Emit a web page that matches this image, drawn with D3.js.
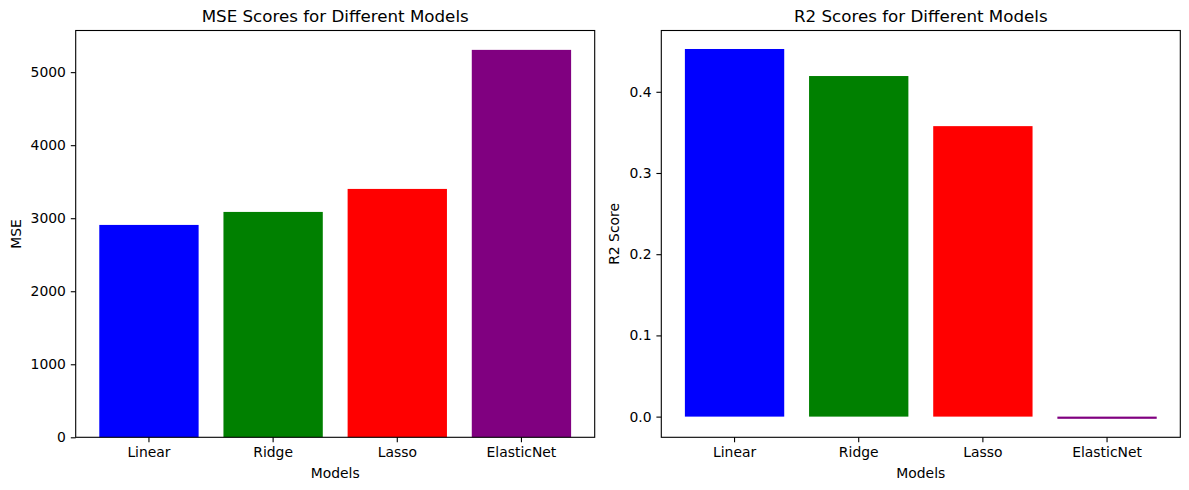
<!DOCTYPE html>
<html>
<head>
<meta charset="utf-8">
<script src="https://cdn.jsdelivr.net/npm/d3@7"></script>
<style>
  body { margin: 0; background: #fff; }
  svg { display: block; }
  svg text { font-family: "DejaVu Sans", sans-serif; }
</style>
</head>
<body>
<svg id="chart" width="1189" height="490"></svg>
<script>
// values
const models = ["Linear", "Ridge", "Lasso", "ElasticNet"];
const mseValues = [2908, 3086, 3401, 5305];
const r2Values = [0.4527, 0.4194, 0.3577, -0.0027];
const barColors = ["blue", "green", "red", "purple"];
const mseTicks = [0, 1000, 2000, 3000, 4000, 5000];
const r2Ticks = [0.0, 0.1, 0.2, 0.3, 0.4];

const svg = d3.select("#chart");
const axTop = 30.5, axBottom = 437.3;

// draws one bar panel, same look as matplotlib defaults
function panel(opts) {
    const g = svg.append("g");
    const x = d3.scaleBand()
        .domain(models)
        .range([opts.left, opts.right])
        .paddingInner(0.2)
        .paddingOuter(0.19);

    const lo = d3.min(opts.values), hi = d3.max(opts.values);
    const span = Math.max(hi, 0) - Math.min(lo, 0);
    const yMin = lo < 0 ? lo - 0.05 * span : 0;
    const yMax = hi + 0.05 * span;
    const y = d3.scaleLinear().domain([yMin, yMax]).range([axBottom, axTop]);

    g.selectAll("rect.bar")
        .data(opts.values)
        .join("rect")
        .attr("class", "bar")
        .attr("x", (d, i) => x(models[i]))
        .attr("width", x.bandwidth())
        .attr("y", d => y(Math.max(d, 0)))
        .attr("height", d => Math.abs(y(d) - y(0)))
        .attr("fill", (d, i) => barColors[i]);

    const yAxis = d3.axisLeft(y)
        .tickValues(opts.ticks)
        .tickFormat(opts.format)
        .tickSize(4.9)
        .tickPadding(4.9)
        .tickSizeOuter(0);
    const ya = g.append("g").attr("transform", `translate(${opts.left},0)`).call(yAxis);

    const xAxis = d3.axisBottom(x)
        .tickSize(4.9)
        .tickPadding(4.9)
        .tickSizeOuter(0);
    const xa = g.append("g").attr("transform", `translate(0,${axBottom})`).call(xAxis);

    [ya, xa].forEach(a => {
        a.attr("font-family", null).attr("font-size", null);
        a.select(".domain").remove();
        a.selectAll("line").attr("stroke", "#000").attr("stroke-width", 1.1);
        a.selectAll("text").attr("fill", "#000").style("font-size", "13.9px");
    });

    // spines
    g.append("rect")
        .attr("x", opts.left).attr("y", axTop)
        .attr("width", opts.right - opts.left).attr("height", axBottom - axTop)
        .attr("fill", "none").attr("stroke", "#000").attr("stroke-width", 1.1);

    const cx = (opts.left + opts.right) / 2;
    g.append("text")
        .attr("x", cx).attr("y", 22)
        .attr("text-anchor", "middle")
        .style("font-size", "16.7px")
        .text(opts.title);

    g.append("text")
        .attr("x", cx).attr("y", 478)
        .attr("text-anchor", "middle")
        .style("font-size", "13.9px")
        .text("Models");

    g.append("text")
        .attr("transform", `translate(${opts.labelX},${(axTop + axBottom) / 2}) rotate(-90)`)
        .attr("text-anchor", "middle")
        .style("font-size", "13.9px")
        .text(opts.yLabel);
}

panel({
    left: 75.7, right: 594.7,
    values: mseValues, ticks: mseTicks, format: d3.format("d"),
    title: "MSE Scores for Different Models", yLabel: "MSE", labelX: 21
});

panel({
    left: 661.3, right: 1180.3,
    values: r2Values, ticks: r2Ticks, format: d3.format(".1f"),
    title: "R2 Scores for Different Models", yLabel: "R2 Score", labelX: 619
});
</script>
</body>
</html>
